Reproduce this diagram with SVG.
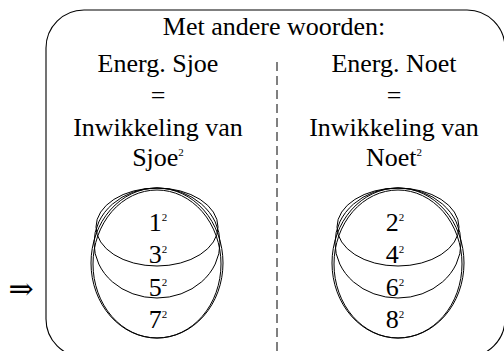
<svg xmlns="http://www.w3.org/2000/svg" width="504" height="351" viewBox="0 0 504 351">
<style>
.el{fill:none;stroke:#000;stroke-width:1}
.frame{fill:none;stroke:#000;stroke-width:1.1}
.dash{fill:none;stroke:#000;stroke-width:1;stroke-dasharray:9,5}
.t{font-family:"Liberation Serif","Times New Roman",serif;font-size:26px;fill:#000;text-anchor:middle}
.sup{font-size:11px}
.arr{font-family:"DejaVu Serif",serif;font-size:30px;fill:#000;text-anchor:middle}
</style>
<g id="frame"><rect class="frame" x="46" y="10" width="459" height="347" rx="38" ry="38"/></g>
<g id="arrow"><text class="arr" x="21" y="299">⇒</text></g>
<g id="title"><text class="t" x="274" y="35">Met andere woorden:</text></g>
<g id="left-col">
<text class="t" x="158" y="72">Energ. Sjoe</text>
<text class="t" x="158" y="104">=</text>
<text class="t" x="158" y="136">Inwikkeling van</text>
<text class="t" x="158" y="166">Sjoe<tspan class="sup" dy="-10">2</tspan></text>
</g>
<g id="right-col">
<text class="t" x="394" y="72">Energ. Noet</text>
<text class="t" x="394" y="104">=</text>
<text class="t" x="394" y="136">Inwikkeling van</text>
<text class="t" x="394" y="166">Noet<tspan class="sup" dy="-10">2</tspan></text>
</g>
<g id="connectors"><line class="dash" x1="277" y1="62" x2="277" y2="351"/></g>
<g id="left-stack">
<ellipse class="el" cx="157" cy="227" rx="61" ry="39"/>
<ellipse class="el" cx="157" cy="243" rx="63" ry="55"/>
<ellipse class="el" cx="157" cy="264" rx="64" ry="74"/>
<ellipse class="el" cx="157" cy="263" rx="66" ry="75"/>
<text class="t" x="158" y="231">1<tspan class="sup" dy="-10">2</tspan></text>
<text class="t" x="158" y="263">3<tspan class="sup" dy="-10">2</tspan></text>
<text class="t" x="158" y="296">5<tspan class="sup" dy="-10">2</tspan></text>
<text class="t" x="158" y="328">7<tspan class="sup" dy="-10">2</tspan></text>
</g>
<g id="right-stack">
<ellipse class="el" cx="398" cy="227" rx="61" ry="39"/>
<ellipse class="el" cx="398" cy="243" rx="63" ry="55"/>
<ellipse class="el" cx="398" cy="264" rx="64" ry="74"/>
<ellipse class="el" cx="398" cy="263" rx="66" ry="75"/>
<text class="t" x="395" y="231">2<tspan class="sup" dy="-10">2</tspan></text>
<text class="t" x="395" y="263">4<tspan class="sup" dy="-10">2</tspan></text>
<text class="t" x="395" y="296">6<tspan class="sup" dy="-10">2</tspan></text>
<text class="t" x="395" y="328">8<tspan class="sup" dy="-10">2</tspan></text>
</g>
</svg>
